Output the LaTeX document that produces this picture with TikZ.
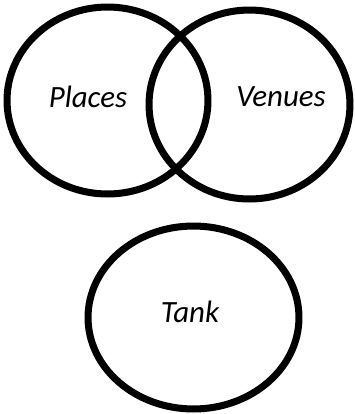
\documentclass[tikz,border=0pt]{standalone}
\usepackage{fontspec}
\setmainfont{Carlito}
\usetikzlibrary{shapes.geometric}

\begin{document}
\begin{tikzpicture}[x=0.02cm,y=-0.02cm,
  oval/.style={draw,ellipse,line width=4pt,inner sep=0pt},
  word/.style={font=\fontsize{17.6}{20}\selectfont\itshape}]
\useasboundingbox (0,0) rectangle (355,414);
\node[oval,minimum width=4.02cm,minimum height=3.74cm] (places) at (107.5,100.5) {};
\node[oval,minimum width=4.02cm,minimum height=3.78cm] (venues) at (249.5,104.5) {};
\node[oval,minimum width=4.22cm,minimum height=3.66cm] (tank) at (193.5,317.5) {};
\node[word] (placestext) at (88,97) {Places};
\node[word] (venuestext) at (281,97) {Venues};
\node[word] (tanktext) at (190,312) {Tank};
\end{tikzpicture}
\end{document}
